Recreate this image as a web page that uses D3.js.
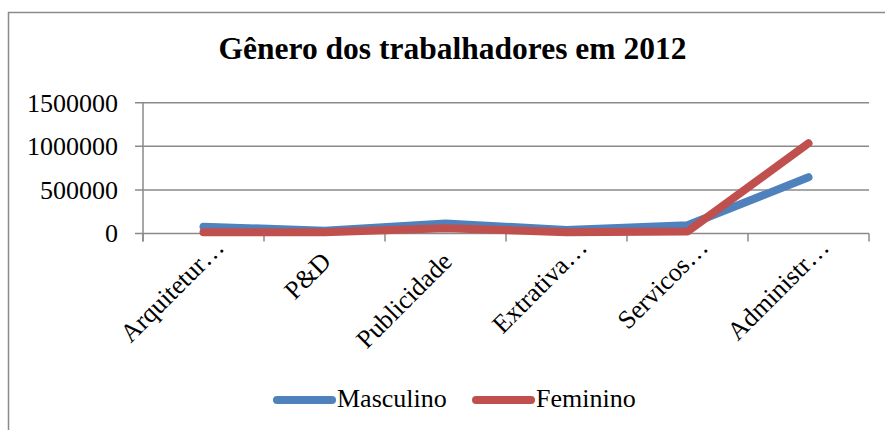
<!DOCTYPE html>
<html>
<head>
<meta charset="utf-8">
<script src="https://cdn.jsdelivr.net/npm/d3@7"></script>
<style>
  body { margin: 0; background: #fff; overflow: hidden; }
  svg { display: block; font-family: "Liberation Serif", "Times New Roman", serif; }
</style>
</head>
<body>
<svg id="chart" width="885" height="430"></svg>
<script>
// data
const categories = ["Arquitetur\u2026", "P&D", "Publicidade", "Extrativa\u2026", "Servicos\u2026", "Administr\u2026"];
const masculino = [78000, 32000, 115000, 40000, 95000, 645000];
const feminino = [14000, 15000, 60000, 15000, 22000, 1035000];
const yTicks = [0, 500000, 1000000, 1500000];
const seriesNames = ["Masculino", "Feminino"];
const seriesColors = ["#4F81BD", "#C0504D"];

const svg = d3.select('#chart');
const plotLeft = 143, plotRight = 869, plotTop = 102.7, plotBottom = 233.5;

// chart area border (runs off the right and bottom)
svg.append('rect')
    .attr('x', 8.5).attr('y', 12.5)
    .attr('width', 900).attr('height', 440)
    .attr('fill', '#fff')
    .attr('stroke', '#8a8a8a').attr('stroke-width', 1.5);

svg.append('text')
    .attr('x', 452.5).attr('y', 59)
    .attr('text-anchor', 'middle')
    .attr('font-weight', 'bold')
    .attr('font-size', 31.5)
    .text('Gênero dos trabalhadores em 2012');

const x = d3.scaleBand().domain(categories).range([plotLeft, plotRight]);
const y = d3.scaleLinear().domain([0, 1500000]).range([plotBottom, plotTop]);

// gridlines + y labels
const g = svg.append('g');
g.selectAll('line.grid').data(yTicks).join('line')
    .attr('class', 'grid')
    .attr('x1', plotLeft - 8).attr('x2', plotRight)
    .attr('y1', d => y(d)).attr('y2', d => y(d))
    .attr('stroke', '#8a8a8a').attr('stroke-width', 1.5);
g.selectAll('text.ylab').data(yTicks).join('text')
    .attr('class', 'ylab')
    .attr('x', 118).attr('y', d => y(d))
    .attr('dy', '0.34em')
    .attr('text-anchor', 'end')
    .attr('font-size', 26)
    .text(d => d);

// y axis line
g.append('line')
    .attr('x1', plotLeft).attr('x2', plotLeft)
    .attr('y1', plotTop).attr('y2', plotBottom + 8)
    .attr('stroke', '#8a8a8a').attr('stroke-width', 1.5);

// category tick marks at band edges
const edges = categories.map(c => x(c)).concat([plotRight]);
g.selectAll('line.xtick').data(edges).join('line')
    .attr('class', 'xtick')
    .attr('x1', d => d).attr('x2', d => d)
    .attr('y1', plotBottom).attr('y2', plotBottom + 8)
    .attr('stroke', '#8a8a8a').attr('stroke-width', 1.5);

// rotated category labels
const cx = c => x(c) + x.bandwidth() / 2;
g.selectAll('text.xlab').data(categories).join('text')
    .attr('class', 'xlab')
    .attr('transform', c => `translate(${cx(c) + 8}, 263) rotate(-45)`)
    .attr('x', c => c.endsWith('\u2026') ? 20 : 0)
    .attr('text-anchor', 'end')
    .attr('font-size', 26)
    .text(c => c);

// lines
const line = d3.line()
    .x((d, i) => cx(categories[i]))
    .y(d => y(d));
[masculino, feminino].forEach((vals, k) => {
    svg.append('path')
        .attr('d', line(vals))
        .attr('fill', 'none')
        .attr('stroke', seriesColors[k])
        .attr('stroke-width', 8)
        .attr('stroke-linecap', 'round')
        .attr('stroke-linejoin', 'round');
});

// legend
const legendX = [277, 476];
seriesNames.forEach((name, k) => {
    svg.append('line')
        .attr('x1', legendX[k]).attr('x2', legendX[k] + 55)
        .attr('y1', 400).attr('y2', 400)
        .attr('stroke', seriesColors[k])
        .attr('stroke-width', 8)
        .attr('stroke-linecap', 'round');
    svg.append('text')
        .attr('x', legendX[k] + 60).attr('y', 407)
        .attr('font-size', 26)
        .text(name);
});
</script>
</body>
</html>
